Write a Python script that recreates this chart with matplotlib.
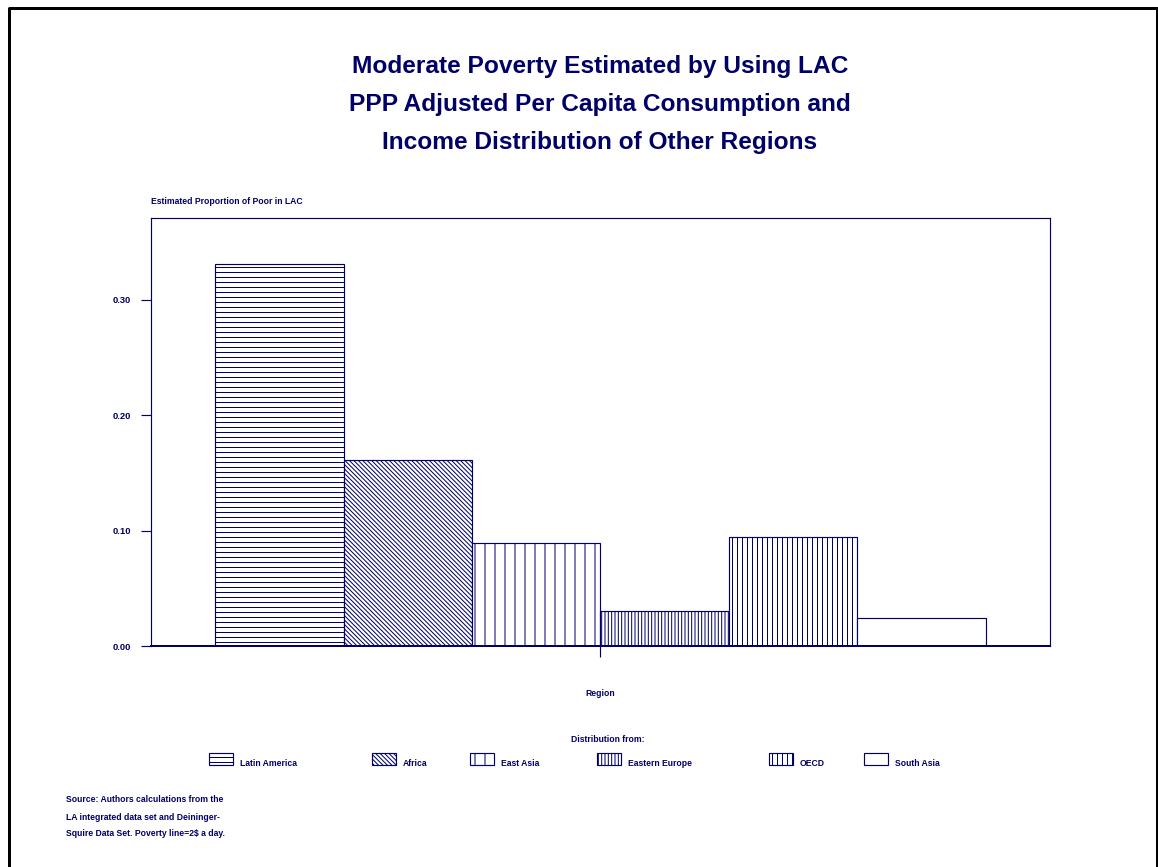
import matplotlib
matplotlib.use("Agg")
import matplotlib.pyplot as plt
from matplotlib.lines import Line2D
from matplotlib.patches import Rectangle

NAVY = "#000066"

REGIONS = ["Latin America", "Africa", "East Asia", "Eastern Europe", "OECD", "South Asia"]
POOR_SHARE = [0.331, 0.161, 0.089, 0.030, 0.094, 0.024]
HATCHES = ["----", "\\" * 9, "||", "||||||", "||||", ""]
Y_TICKS = [0.0, 0.1, 0.2, 0.3]
Y_TICK_LABELS = ["0.00", "0.10", "0.20", "0.30"]

TITLE_LINES = [
    "Moderate Poverty Estimated by Using LAC",
    "PPP Adjusted Per Capita Consumption and",
    "Income Distribution of Other Regions",
]
SOURCE_LINES = [
    "Source: Authors calculations from the",
    "LA integrated data set and Deininger-",
    "Squire Data Set. Poverty line=2$ a day.",
]

# legend swatch left edges (pixels)
LEGEND_X = [209, 372, 470, 597, 769, 864]

W, H, DPI = 1158, 867, 120


def fx(px):
    return px / W


def fy(py):
    return 1 - py / H


def main():
    plt.rcParams["font.family"] = ["Liberation Sans", "DejaVu Sans"]
    plt.rcParams["font.weight"] = "bold"
    plt.rcParams["hatch.linewidth"] = 0.6
    plt.rcParams["hatch.color"] = NAVY

    fig = plt.figure(figsize=(W / DPI, H / DPI), dpi=DPI)
    ax = fig.add_axes([fx(151), fy(646), fx(1050) - fx(151), fy(218) - fy(646)])

    for i, (val, hatch) in enumerate(zip(POOR_SHARE, HATCHES)):
        ax.bar(i + 0.5, val, width=1.0, facecolor="white", edgecolor=NAVY,
               hatch=hatch, linewidth=0.7)

    ax.set_xlim(-0.5, 6.5)
    ax.set_ylim(0, 0.3706)
    ax.set_yticks(Y_TICKS)
    ax.set_yticklabels(Y_TICK_LABELS)
    ax.set_xticks([3])
    ax.set_xticklabels([""])
    ax.tick_params(axis="y", direction="out", length=6, width=0.7, colors=NAVY,
                   labelsize=5.6, pad=6)
    ax.tick_params(axis="x", direction="out", length=6.6, width=0.7, colors=NAVY)
    for sp in ax.spines.values():
        sp.set_color(NAVY)
        sp.set_linewidth(0.7)
    ax.spines["bottom"].set_linewidth(1.2)

    # titles
    for k, line in enumerate(TITLE_LINES):
        fig.text(fx(600), fy(67 + 38 * k), line, ha="center", va="center",
                 fontsize=14.7, color=NAVY, fontweight="bold")

    fig.text(fx(151), fy(202), "Estimated Proportion of Poor in LAC", ha="left",
             va="center", fontsize=5.2, color=NAVY)
    fig.text(fx(600), fy(694), "Region", ha="center", va="center",
             fontsize=5.2, color=NAVY)
    fig.text(fx(608), fy(739), "Distribution from:", ha="center", va="center",
             fontsize=5.2, color=NAVY)

    # legend
    for lx, name, hatch in zip(LEGEND_X, REGIONS, HATCHES):
        fig.add_artist(Rectangle((fx(lx), fy(765)), fx(24), fy(753) - fy(765),
                                 transform=fig.transFigure, facecolor="white",
                                 edgecolor=NAVY, hatch=hatch, linewidth=0.7))
        fig.text(fx(lx + 31), fy(763), name, ha="left", va="center",
                 fontsize=5.2, color=NAVY)

    for k, line in enumerate(SOURCE_LINES):
        fig.text(fx(66), fy(800 + 17 * k), line, ha="left", va="center",
                 fontsize=5.2, color=NAVY)

    # page frame
    frame = dict(transform=fig.transFigure, color="black", linewidth=1.8)
    fig.add_artist(Line2D([fx(8.5), fx(8.5), fx(1156.5), fx(1156.5)],
                          [0, fy(7.5), fy(7.5), 0], **frame))

    fig.savefig("out.png", dpi=DPI, facecolor="white")


if __name__ == "__main__":
    main()
